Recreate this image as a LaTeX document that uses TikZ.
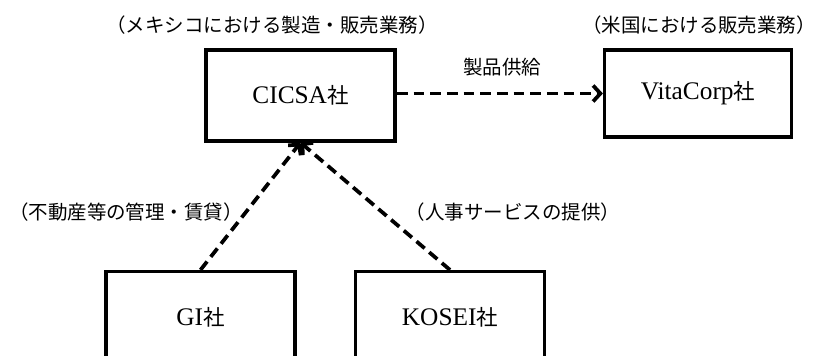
\documentclass[tikz,border=0pt]{standalone}
\usepackage{fontspec}
\setmainfont{Liberation Serif}
\newfontfamily\jp[Scale=0.85]{Noto Sans CJK JP}
\usetikzlibrary{arrows.meta}

\begin{document}
\begin{tikzpicture}[x=0.75pt,y=-0.75pt,
  firm/.style={draw,line width=2.6pt,inner sep=0pt,minimum width=142pt,minimum height=68pt,font=\fontsize{19}{22}\selectfont},
  note/.style={font=\fontsize{17.2}{20}\selectfont\jp},
  flow/.style={line width=2.8pt,dash pattern=on 8pt off 4.5pt,-{Straight Barb[length=5.5pt,width=12pt]}}]

\useasboundingbox (0,0) rectangle (819,356);
\clip (0,0) rectangle (819,356);

% Unternehmen
\node[firm] (cicsa) at (300.5,95.5) {CICSA{\jp 社}};
\node[firm,minimum width=140pt,minimum height=65pt] (vita) at (698,93.5) {VitaCorp{\jp 社}};
\node[firm] (gi) at (200.5,317) {GI{\jp 社}};
\node[firm] (kosei) at (450,317) {KOSEI{\jp 社}};

% Beschriftungen
\node[note] (tcicsa) at (272,25) {（メキシコにおける製造・販売業務）};
\node[note] (tvita) at (699,25) {（米国における販売業務）};
\node[note] (tflow) at (502,67) {製品供給};
\node[note] (tgi) at (126,212) {（不動産等の管理・賃貸）};
\node[note] (tkosei) at (513,212) {（人事サービスの提供）};

% Pfeile
\draw[flow] (cicsa.east |- vita.west) -- (vita.west);
\draw[flow] (gi.north) -- (cicsa.south);
\draw[flow] (kosei.north) -- (cicsa.south);

\end{tikzpicture}
\end{document}
